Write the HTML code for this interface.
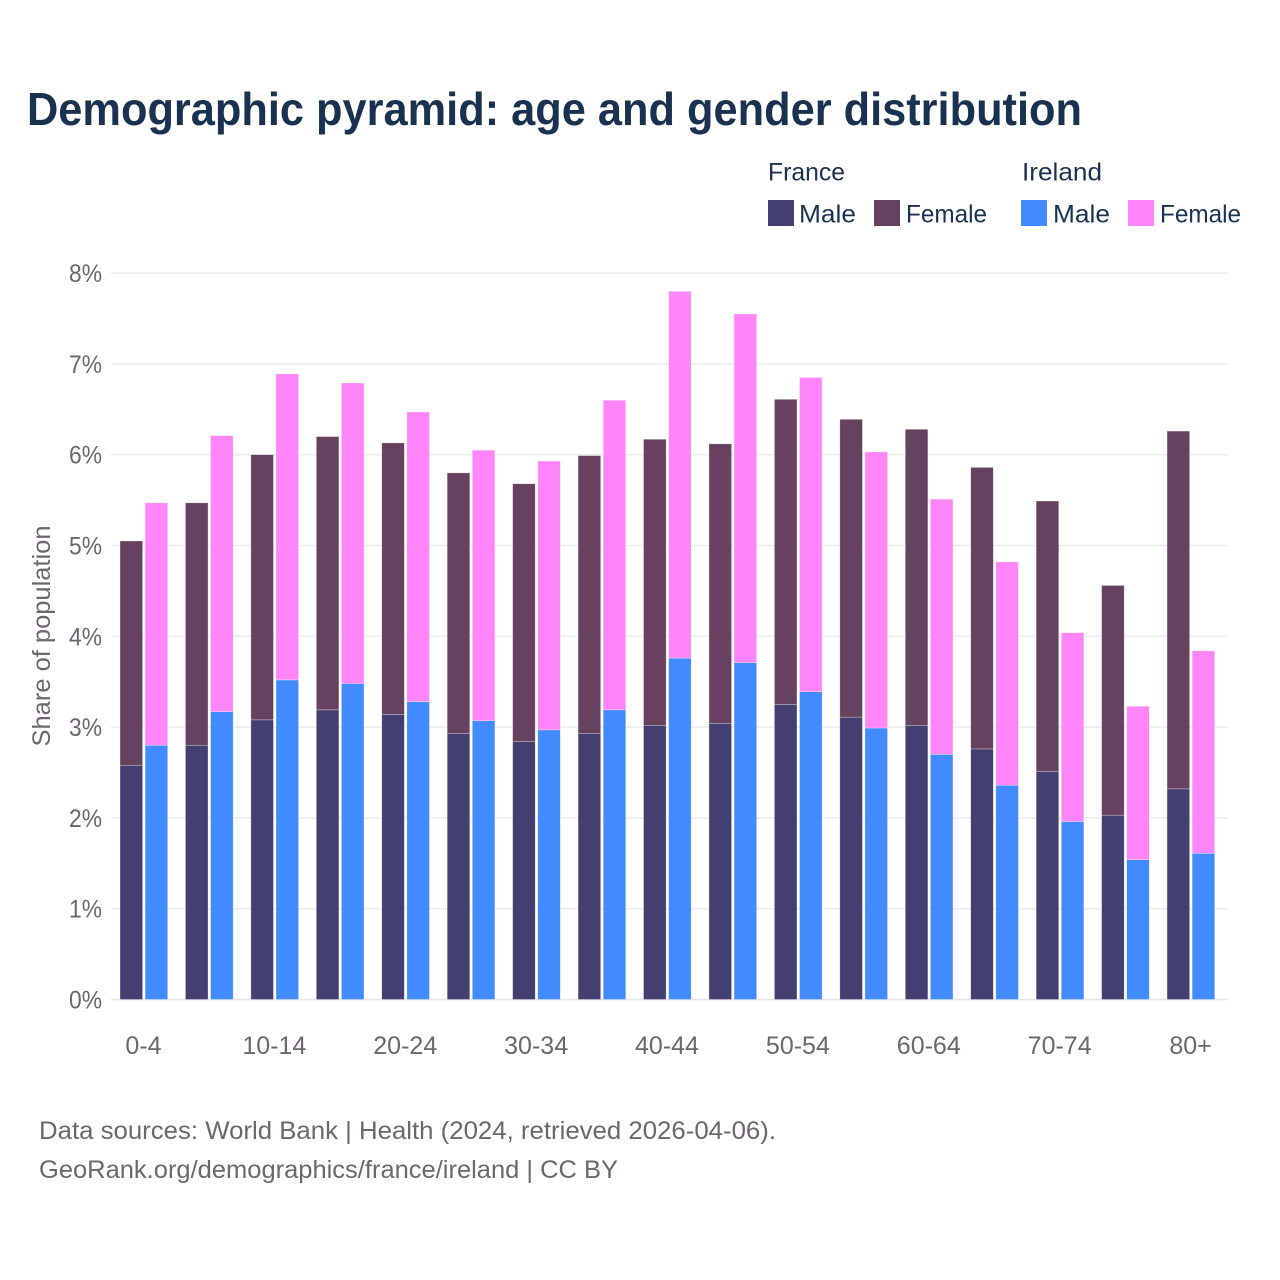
<!DOCTYPE html>
<html lang="en">
<head>
<meta charset="utf-8">
<title>Demographic pyramid: age and gender distribution</title>
<style>
html,body{margin:0;padding:0;background:#fff;width:1280px;height:1280px;overflow:hidden}
svg{display:block;font-family:"Liberation Sans",sans-serif}
</style>
</head>
<body>
<svg id="chart" xmlns="http://www.w3.org/2000/svg" width="1280" height="1280" viewBox="0 0 1280 1280">
  <rect x="0" y="0" width="1280" height="1280" fill="#ffffff"/>
  <text x="27" y="125" font-size="46" font-weight="700" fill="#1a3252" textLength="1055" lengthAdjust="spacingAndGlyphs">Demographic pyramid: age and gender distribution</text>

  <g font-size="25" fill="#1a3252">
    <text x="768" y="180.5" textLength="77" lengthAdjust="spacingAndGlyphs">France</text>
    <text x="1022" y="180.5" textLength="80" lengthAdjust="spacingAndGlyphs">Ireland</text>
    <rect x="768" y="200" width="26" height="26" fill="#433f70"/>
    <text x="799" y="222.5" textLength="57" lengthAdjust="spacingAndGlyphs">Male</text>
    <rect x="874" y="200" width="26" height="26" fill="#674160"/>
    <text x="906" y="222.5" textLength="81" lengthAdjust="spacingAndGlyphs">Female</text>
    <rect x="1021" y="200" width="26" height="26" fill="#418bff"/>
    <text x="1053" y="222.5" textLength="57" lengthAdjust="spacingAndGlyphs">Male</text>
    <rect x="1128" y="200" width="26" height="26" fill="#ff85f8"/>
    <text x="1160" y="222.5" textLength="81" lengthAdjust="spacingAndGlyphs">Female</text>
  </g>

  <g id="grid"></g>
  <g id="y-ticks"></g>
  <g id="bars"></g>
  <g id="x-ticks"></g>

  <text transform="translate(50,636) rotate(-90)" text-anchor="middle" font-size="25" fill="#6b676c" textLength="221" lengthAdjust="spacingAndGlyphs">Share of population</text>

  <text x="39" y="1139" font-size="25" fill="#6b676c" textLength="737" lengthAdjust="spacingAndGlyphs">Data sources: World Bank | Health (2024, retrieved 2026-04-06).</text>
  <text x="39" y="1178" font-size="25" fill="#6b676c" textLength="579" lengthAdjust="spacingAndGlyphs">GeoRank.org/demographics/france/ireland | CC BY</text>
</svg>
<script>
const ageGroups = ["0-4","5-9","10-14","15-19","20-24","25-29","30-34","35-39","40-44","45-49","50-54","55-59","60-64","65-69","70-74","75-79","80+"];
const xTickLabels = ["0-4","10-14","20-24","30-34","40-44","50-54","60-64","70-74","80+"];
const yTicks = [0,1,2,3,4,5,6,7,8];
const franceMale = [2.58,2.80,3.08,3.19,3.14,2.93,2.84,2.93,3.02,3.04,3.25,3.11,3.02,2.76,2.51,2.03,2.32];
const franceFemale = [2.47,2.67,2.92,3.01,2.99,2.87,2.84,3.06,3.15,3.08,3.36,3.28,3.26,3.10,2.98,2.53,3.94];
const irelandMale = [2.80,3.17,3.52,3.48,3.28,3.07,2.97,3.19,3.76,3.71,3.39,2.99,2.70,2.36,1.96,1.54,1.61];
const irelandFemale = [2.67,3.04,3.37,3.31,3.19,2.98,2.96,3.41,4.04,3.84,3.46,3.04,2.81,2.46,2.08,1.69,2.23];

const NS = "http://www.w3.org/2000/svg";
const plotLeft = 111, plotRight = 1228;
const yZero = 999.5, yPerUnit = 90.8;
const groupStart = 144, groupStep = 65.44;
const barWidth = 22.6, barOffset = 24;

function yScale(v){ return yZero - v * yPerUnit; }
function xScale(label){ return groupStart + ageGroups.indexOf(label) * groupStep; }

const gridGroup = document.getElementById("grid");
const yTickGroup = document.getElementById("y-ticks");
const xTickGroup = document.getElementById("x-ticks");
const barGroup = document.getElementById("bars");

yTicks.forEach(function(t){
  const line = document.createElementNS(NS, "line");
  
  
  line.setAttribute("x1", plotLeft);
  line.setAttribute("x2", plotRight);
  line.setAttribute("y1", yScale(t));
  line.setAttribute("y2", yScale(t));
  line.setAttribute("stroke", t === 0 ? "#e6e6ec" : "#ececf0");
  line.setAttribute("stroke-width", "1.5");
  gridGroup.appendChild(line);

  const label = document.createElementNS(NS, "text");
  
  
  label.setAttribute("x", 102);
  label.setAttribute("y", yScale(t) + 9);
  label.setAttribute("text-anchor", "end");
  label.setAttribute("font-size", "25");
  label.setAttribute("fill", "#6b676c");
  label.setAttribute("textLength", "33");
  label.setAttribute("lengthAdjust", "spacingAndGlyphs");
  label.textContent = t + "%";
  yTickGroup.appendChild(label);
});

xTickLabels.forEach(function(name){
  const label = document.createElementNS(NS, "text");
  
  
  label.setAttribute("x", xScale(name) - 0.5);
  label.setAttribute("y", 1054);
  label.setAttribute("text-anchor", "middle");
  label.setAttribute("font-size", "25");
  label.setAttribute("fill", "#6b676c");
  label.textContent = name;
  xTickGroup.appendChild(label);
});

function drawSegment(name, x, base, value, color){
  const r = document.createElementNS(NS, "rect");
  
  
  r.setAttribute("x", x);
  r.setAttribute("y", yScale(base + value));
  r.setAttribute("width", barWidth);
  r.setAttribute("height", value * yPerUnit);
  r.setAttribute("fill", color);
  r.setAttribute("stroke", "#ffffff");
  r.setAttribute("stroke-opacity", "0.5");
  r.setAttribute("stroke-width", "0.6");
  barGroup.appendChild(r);
}

ageGroups.forEach(function(group, i){
  const cx = xScale(group);
  const fx = cx - barOffset;
  const ix = cx + 1.1;
  drawSegment("bar-france-male-" + group, fx, 0, franceMale[i], "#433f70");
  drawSegment("bar-france-female-" + group, fx, franceMale[i], franceFemale[i], "#674160");
  drawSegment("bar-ireland-male-" + group, ix, 0, irelandMale[i], "#418bff");
  drawSegment("bar-ireland-female-" + group, ix, irelandMale[i], irelandFemale[i], "#ff85f8");
});
</script>
</body>
</html>
